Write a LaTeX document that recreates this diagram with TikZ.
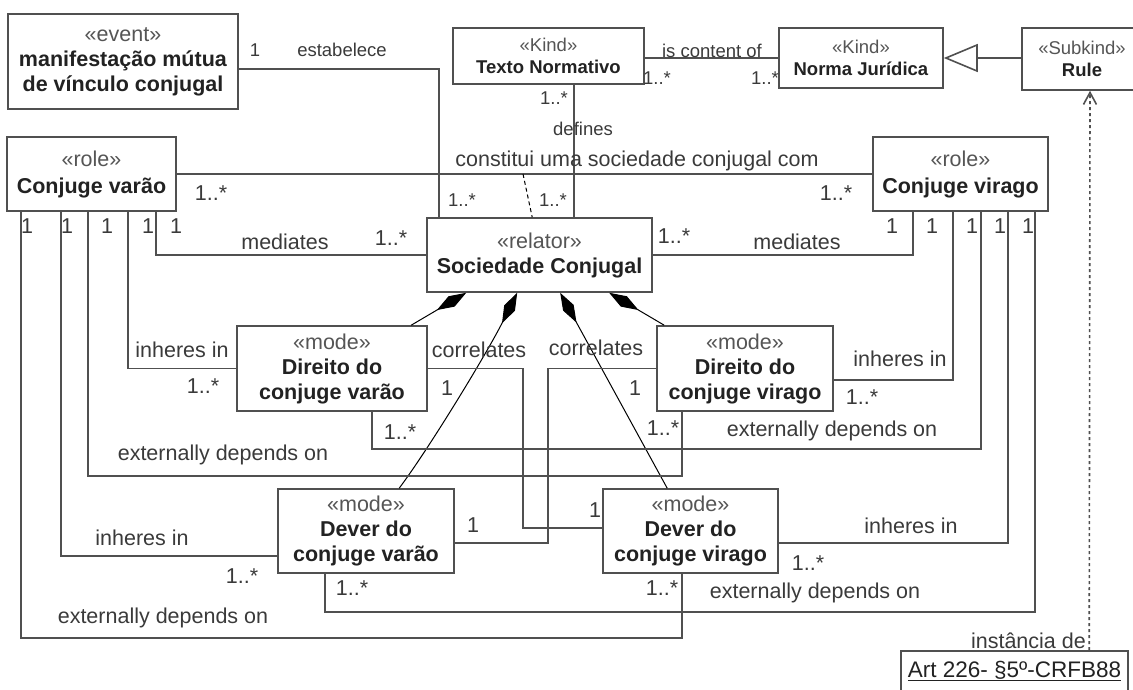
\documentclass[tikz,border=0pt]{standalone}
\usepackage{fontspec}
\setmainfont{Liberation Sans}
\usepackage{xcolor}
\definecolor{LineGray}{HTML}{505050}
\definecolor{NameBlack}{HTML}{222222}
\definecolor{StereoGray}{HTML}{555555}
\definecolor{LabelGray}{HTML}{3A3A3A}
\usepackage{tikz}
\usetikzlibrary{arrows.meta,positioning,calc}
\newcommand{\stereo}[1]{{\color{StereoGray}#1}}
\newcommand{\umlbig}{\fontsize{21.5}{25}\selectfont}
\newcommand{\umlsmall}{\fontsize{18.5}{22}\selectfont}

\begin{document}
\begin{tikzpicture}[
  x=1pt, y=-1pt,
  umlbox/.style={rectangle, draw=LineGray, line width=1.6pt, fill=white,
                 align=center, inner sep=1pt, text=NameBlack, font=\umlbig},
  kindbox/.style={umlbox, font=\umlsmall},
  assoc/.style={draw=LineGray, line width=1.6pt},
  comp/.style={{Diamond[length=34pt,width=12pt]}-, draw=black, line width=1pt},
  gen/.style={-{Triangle[open,length=34pt,width=28pt]}, draw=LineGray, line width=1.6pt},
  inst/.style={-{Straight Barb[length=12pt,width=13pt]}, draw=LineGray,
               line width=1.6pt, dash pattern=on 3pt off 3pt},
  linkdash/.style={draw=black, line width=1pt, dash pattern=on 4pt off 3pt},
  lbl/.style={font=\umlbig, text=LabelGray, inner sep=0pt},
  slbl/.style={lbl, font=\umlsmall},
]
  \useasboundingbox (0,0) rectangle (1133,689);
  \clip (0,0) rectangle (1133,689);

  % Classes
  \node[umlbox, minimum width=230pt, minimum height=95pt] (event) at (123,61.5)
    {\stereo{«event»}\\\textbf{manifestação mútua}\\\textbf{de vínculo conjugal}};
  \node[kindbox, minimum width=191pt, minimum height=56pt] (texto) at (548.5,56)
    {\stereo{«Kind»}\\\textbf{Texto Normativo}};
  \node[kindbox, minimum width=164pt, minimum height=60pt] (norma) at (861,58)
    {\stereo{«Kind»}\\\textbf{Norma Jurídica}};
  \node[kindbox, minimum width=120pt, minimum height=62pt] (rule) at (1082,59)
    {\stereo{«Subkind»}\\\textbf{Rule}};
  \node[umlbox, minimum width=169pt, minimum height=74pt] (varao) at (91.5,174)
    {\stereo{«role»}\\[2pt]\textbf{Conjuge varão}};
  \node[umlbox, minimum width=175pt, minimum height=74pt] (virago) at (960.5,174)
    {\stereo{«role»}\\[2pt]\textbf{Conjuge virago}};
  \node[umlbox, minimum width=225pt, minimum height=74pt] (soc) at (539.5,255)
    {\stereo{«relator»}\\\textbf{Sociedade Conjugal}};
  \node[umlbox, minimum width=190pt, minimum height=85pt] (dirvarao) at (332,368.5)
    {\stereo{«mode»}\\\textbf{Direito do}\\\textbf{conjuge varão}};
  \node[umlbox, minimum width=176pt, minimum height=85pt] (dirvirago) at (745,368.5)
    {\stereo{«mode»}\\\textbf{Direito do}\\\textbf{conjuge virago}};
  \node[umlbox, minimum width=176pt, minimum height=84pt] (devvarao) at (366,531)
    {\stereo{«mode»}\\\textbf{Dever do}\\\textbf{conjuge varão}};
  \node[umlbox, minimum width=175pt, minimum height=84pt] (devvirago) at (690.5,531)
    {\stereo{«mode»}\\\textbf{Dever do}\\\textbf{conjuge virago}};
  \node[umlbox, minimum width=227pt, minimum height=40pt, font=\fontsize{22.5}{26}\selectfont] (art) at (1014.5,671)
    {\underline{Art 226- §5º-CRFB88}};

  % estabelece
  \draw[assoc] ([yshift=-7.5pt]event.east) -| ([xshift=13pt]soc.north west);
  \node[slbl] (mEstA) at (255,50) {1};
  \node[slbl] (tEst) at (342,50) {estabelece};
  \node[slbl] (mEstB) at (462,200) {1..*};

  % is content of
  \draw[assoc] (texto.east |- norma.west) -- (norma.west);
  \node[slbl] (tCont) at (712,51) {is content of};
  \node[slbl] (mContA) at (657,78) {1..*};
  \node[slbl] (mContB) at (765,78) {1..*};

  % generalization
  \draw[gen] (norma.east -| rule.west) -- (norma.east);

  % defines
  \draw[assoc] ([xshift=122pt]texto.south west) -- ([xshift=148pt]soc.north west);
  \node[slbl] (mDefA) at (554,98) {1..*};
  \node[slbl] (tDef) at (583,129) {defines};
  \node[slbl] (mDefB) at (553,200) {1..*};

  % constitui uma sociedade conjugal com
  \draw[assoc] (varao.east) -- (virago.west);
  \coordinate (cmid) at (523,174);
  \draw[linkdash] (cmid) -- ([xshift=106pt]soc.north west);
  \node[lbl] (tConst) at (637,161) {constitui uma sociedade conjugal com};
  \node[lbl] (mConstA) at (211,193) {1..*};
  \node[lbl] (mConstB) at (836,193) {1..*};

  % mediates
  \draw[assoc] ([xshift=150pt]varao.south west) |- (soc.west);
  \node[lbl] (mMedA) at (176,226) {1};
  \node[lbl] (tMedA) at (285,242) {mediates};
  \node[lbl] (mMedB) at (391,238) {1..*};
  \draw[assoc] (soc.east) -| ([xshift=41pt]virago.south west);
  \node[lbl] (mMedC) at (674,236) {1..*};
  \node[lbl] (tMedB) at (797,242) {mediates};
  \node[lbl] (mMedD) at (892,226) {1};

  % compositions
  \draw[comp] ([xshift=40pt]soc.south west) -- ([xshift=175pt]dirvarao.north west);
  \draw[comp] ([xshift=91pt]soc.south west) .. controls +(-30,60) and +(30,-40) .. ([xshift=122pt]devvarao.north west);
  \draw[comp] ([xshift=134pt]soc.south west) -- ([xshift=65pt]devvirago.north west);
  \draw[comp] ([xshift=183pt]soc.south west) -- ([xshift=8pt]dirvirago.north west);

  % Conjuge varao side
  \draw[assoc] ([xshift=122pt]varao.south west) |- (dirvarao.west);
  \node[lbl] (mInhA) at (148,226) {1};
  \node[lbl] (tInhA) at (182,350) {inheres in};
  \node[lbl] (mInhB) at (203,386) {1..*};
  \draw[assoc] ([xshift=26pt]dirvirago.south west) -- ++(0,64) -| ([xshift=82pt]varao.south west);
  \node[lbl] (mExtA) at (107,226) {1};
  \node[lbl] (tExtA) at (223,455) {externally depends on};
  \node[lbl] (mExtB) at (663,428) {1..*};
  \draw[assoc] ([xshift=55pt]varao.south west) |- ([yshift=-25pt]devvarao.west);
  \node[lbl] (mInhC) at (67,226) {1};
  \node[lbl] (tInhB) at (142,538) {inheres in};
  \node[lbl] (mInhD) at (242,576) {1..*};
  \draw[assoc] ([xshift=80pt]devvirago.south west) -- ++(0,64) -| ([xshift=15pt]varao.south west);
  \node[lbl] (mExtC) at (27,226) {1};
  \node[lbl] (tExtB) at (163,618) {externally depends on};
  \node[lbl] (mExtD) at (662,588) {1..*};

  % Conjuge virago side
  \draw[assoc] ([yshift=-11.5pt]dirvirago.east) -| ([xshift=81pt]virago.south west);
  \node[lbl] (mInhE) at (932,226) {1};
  \node[lbl] (tInhC) at (900,359) {inheres in};
  \node[lbl] (mInhF) at (862,397) {1..*};
  \draw[assoc] ([xshift=136pt]dirvarao.south west) -- ++(0,37) -| ([xshift=109pt]virago.south west);
  \node[lbl] (mExtE) at (972,226) {1};
  \node[lbl] (tExtC) at (832,431) {externally depends on};
  \node[lbl] (mExtF) at (400,432) {1..*};
  \draw[assoc] ([yshift=-12pt]devvirago.east) -| ([xshift=136pt]virago.south west);
  \node[lbl] (mInhG) at (1000,226) {1};
  \node[lbl] (tInhD) at (911,526) {inheres in};
  \node[lbl] (mInhH) at (808,563) {1..*};
  \draw[assoc] ([xshift=48pt]devvarao.south west) -- ++(0,38) -| ([xshift=163pt]virago.south west);
  \node[lbl] (mExtG) at (1028,226) {1};
  \node[lbl] (tExtD) at (815,593) {externally depends on};
  \node[lbl] (mExtH) at (352,588) {1..*};

  % correlates
  \draw[assoc] (dirvarao.east) -- ++(95,0) |- ([yshift=3pt]devvirago.west);
  \node[lbl] (tCorA) at (479,350) {correlates};
  \node[lbl] (mCorA) at (447,388) {1};
  \node[lbl] (mCorB) at (595,510) {1};
  \draw[assoc] (dirvirago.west) -- ++(-108,0) |- ([yshift=-12pt]devvarao.east);
  \node[lbl] (tCorB) at (596,348) {correlates};
  \node[lbl] (mCorC) at (635,388) {1};
  \node[lbl] (mCorD) at (473,525) {1};

  % instance of Rule
  \draw[inst] ([xshift=189pt]art.north west) -- ([xshift=8pt]rule.south);
  \node[lbl, anchor=east] (tInst) at (1086,641) {instância de};
\end{tikzpicture}
\end{document}
